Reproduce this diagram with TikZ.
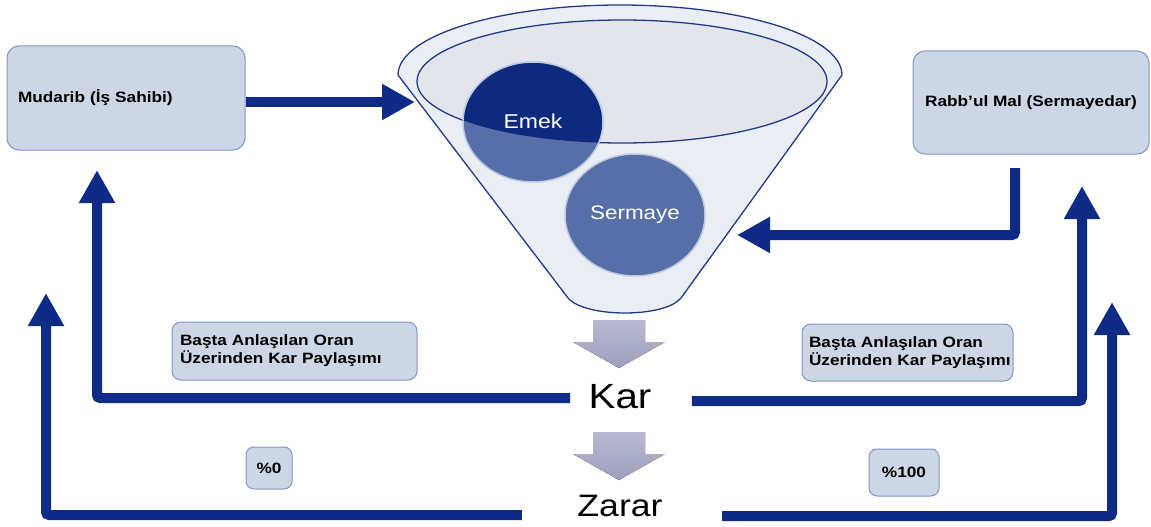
\documentclass[tikz,border=0pt]{standalone}
\usepackage{fontspec}
\setmainfont{Liberation Sans}[FakeStretch=1.15]
\usetikzlibrary{arrows.meta,calc}

\definecolor{navy}{HTML}{0E2C86}
\definecolor{boxfill}{HTML}{CDD6E4}
\definecolor{boxline}{HTML}{7F95C8}
\definecolor{funnelfill}{HTML}{E9EDF4}
\definecolor{rimfill}{HTML}{E2E5EB}
\definecolor{funnelline}{HTML}{22398C}
\definecolor{emekdark}{HTML}{0D2A7E}
\definecolor{ballblue}{HTML}{576FA8}
\definecolor{ballrim}{HTML}{BFC9E0}
\definecolor{graytop}{HTML}{B8BAD1}
\definecolor{graybot}{HTML}{9C9FBC}

% grey block arrow pointing down: centre x, top y
\newcommand\downblock[2]{%
  \fill[top color=graytop, bottom color=graybot]
    (#1-26,#2) -- (#1+26,#2) -- (#1+26,#2-22) -- (#1+46,#2-22)
    -- (#1,#2-48) -- (#1-46,#2-22) -- (#1-26,#2-22) -- cycle;}

\begin{document}
\begin{tikzpicture}[x=1pt,y=1pt,
  conn/.style={draw=navy, line width=10pt, rounded corners=3pt,
    -{Triangle[length=33pt,width=34pt]}},
  rolebox/.style={rectangle, rounded corners=12pt, fill=boxfill, draw=boxline,
    line width=1pt, font=\fontsize{15}{18}\selectfont\bfseries},
  tag/.style={rectangle, rounded corners=9pt, fill=boxfill, draw=boxline,
    line width=1pt, font=\fontsize{15}{18}\selectfont\bfseries,
    align=left, inner sep=8pt},
  ball/.style={text=white},
  outcome/.style={text=black}]
\useasboundingbox (0,0) rectangle (1151,-527);

% funnel body
\filldraw[fill=funnelfill, draw=funnelline, line width=1.3pt, line join=round]
  (398,-75) arc[start angle=180, end angle=0, x radius=222, y radius=70]
  -- (681,-298) .. controls (665,-318) and (585,-318) .. (568,-298) -- cycle;
% funnel mouth
\filldraw[fill=rimfill, draw=funnelline, line width=1.3pt]
  (622,-81.5) ellipse[x radius=205, y radius=61.5];

% Emek ball, darker where it sits inside the mouth
\filldraw[fill=ballblue, draw=ballrim, line width=1.5pt]
  (533,-122) ellipse[x radius=70, y radius=60];
\begin{scope}
  \clip (622,-81.5) ellipse[x radius=205, y radius=61.5];
  \filldraw[fill=emekdark, draw=ballrim, line width=1.5pt]
    (533,-122) ellipse[x radius=70, y radius=60];
\end{scope}
% Sermaye ball
\filldraw[fill=ballblue, draw=ballrim, line width=1.5pt]
  (635,-215) ellipse[x radius=70, y radius=61];

\node[ball, font=\fontsize{20}{24}\selectfont] (emek) at (533,-121) {Emek};
\node[ball, font=\fontsize{19.5}{24}\selectfont] (serm) at (635,-215) {Sermaye};

% parties
\node[rolebox, minimum width=238pt, minimum height=104pt, text width=216pt,
  inner sep=11pt, align=left] (mud) at (126,-98) {Mudarib (İş Sahibi)};
\node[rolebox, minimum width=236pt, minimum height=103pt, align=center]
  (rab) at (1031,-102.5) {Rabb’ul Mal (Sermayedar)};

% grey down arrows
\downblock{619}{-320}
\downblock{619}{-432}

% outcomes
\node[outcome, font=\fontsize{35}{40}\selectfont] (kar) at (620,-397) {Kar};
\node[outcome, font=\fontsize{31}{36}\selectfont] (zarar) at (620,-506) {Zarar};

% share labels
\node[tag, minimum width=245pt, minimum height=58pt, text width=229pt]
  (tagL) at (294.5,-351) {\mbox{Başta Anlaşılan Oran}\\\mbox{Üzerinden Kar Paylaşımı}};
\node[tag, minimum width=211pt, minimum height=57pt, text width=197pt, inner sep=7pt]
  (tagR) at (907.5,-352.5) {\mbox{Başta Anlaşılan Oran}\\\mbox{Üzerinden Kar Paylaşımı}};
\node[tag, rounded corners=8pt, minimum width=46pt, minimum height=42pt,
  align=center, inner sep=2pt] (p0) at (269,-468) {\%0};
\node[tag, rounded corners=8pt, minimum width=70pt, minimum height=47pt,
  align=center, inner sep=2pt] (p100) at (904,-472.5) {\%100};

% connector ends
\coordinate (funIn) at (415,-102);
\coordinate (rabOut) at (1015,-168);
\coordinate (funR) at (737,-235);
\coordinate (mudTip) at (97,-170);
\coordinate (rabTip) at (1082,-186);
\coordinate (outLTip) at (46,-293);
\coordinate (outRTip) at (1112,-302);

% connectors
\draw[conn] (mud.east |- funIn) -- (funIn);
\draw[conn] (rabOut) |- (funR);
\draw[conn] ([xshift=-15pt,yshift=-1pt]kar.west) -| (mudTip);
\draw[conn] ([xshift=37pt,yshift=-4pt]kar.east) -| (rabTip);
\draw[conn] ([xshift=-52pt,yshift=-9pt]zarar.west) -| (outLTip);
\draw[conn] ([xshift=56pt,yshift=-10pt]zarar.east) -| (outRTip);
\end{tikzpicture}
\end{document}
